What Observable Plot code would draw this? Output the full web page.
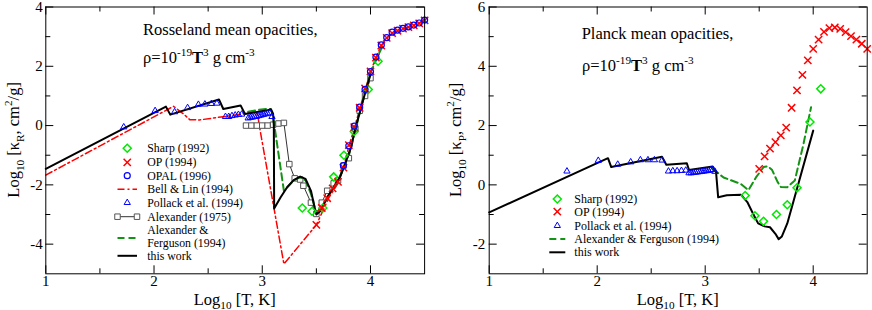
<!DOCTYPE html>
<html><head><meta charset="utf-8">
<script src="https://cdn.jsdelivr.net/npm/d3@7"></script>
<script src="https://cdn.jsdelivr.net/npm/@observablehq/plot@0.6"></script>
<style>
body{margin:0;background:#fff;}
#wrap{display:flex;width:872px;height:310px;}
</style></head><body><div id="wrap"></div>
<script>
// ---------- data: [log10 T, log10 kappa] ----------
const xMajor = [1, 2, 3, 4];
const xMinor = [1.5, 2.5, 3.5];
const rossYMajor = [-4, -2, 0, 2, 4];
const rossYMinor = [-3, -1, 1, 3];
const planckYMajor = [-2, 0, 2, 4, 6];
const planckYMinor = [-1, 1, 3, 5];

// Rosseland panel
const rossThisWork = [[1.0,-1.46],[2.11,0.64],[2.15,0.37],[2.6,0.88],[2.64,0.56],[2.8,0.68],[2.84,0.39],[3.05,0.52],[3.08,0.55],[3.1,0.4],[3.107,0.0],[3.11,-2.8],[3.17,-2.42],[3.23,-2.08],[3.29,-1.84],[3.35,-1.72],[3.4,-1.8],[3.45,-2.2],[3.48,-2.7],[3.5,-3.0],[3.54,-2.87],[3.6,-2.42],[3.66,-2.08],[3.72,-1.72],[3.77,-1.25],[3.82,-0.73],[3.86,-0.1],[3.91,0.55],[3.95,1.1],[4.0,1.72]];
const rossBellLin = [[1.0,-1.67],[2.18,0.65],[2.27,0.4],[2.33,0.2],[2.42,0.19],[2.8,0.38],[2.93,0.5],[2.96,0.35],[2.97,0.05],[3.2,-4.67],[3.5,-3.35],[3.62,-2.4],[3.7,-1.95],[3.75,-1.45],[3.8,-0.7],[3.85,-0.1],[3.9,0.55],[3.95,1.2],[4.0,1.8],[4.05,2.3],[4.1,2.7],[4.15,2.95],[4.2,3.1],[4.3,3.25],[4.4,3.38],[4.5,3.55]];
const rossAlexander75 = [[2.85,0.0],[2.9,0.0],[2.95,0.0],[3.0,0.0],[3.05,0.0],[3.1,0.03],[3.15,0.07],[3.2,0.09],[3.25,-1.3],[3.3,-1.78],[3.35,-1.82],[3.38,-2.03],[3.45,-2.6],[3.5,-2.98],[3.55,-2.6],[3.6,-2.2],[3.66,-1.95],[3.7,-1.85],[3.75,-1.35],[3.8,-1.1],[3.86,-0.1],[3.9,0.5],[3.95,1.0],[4.0,1.6]];
const rossAF = [[2.87,0.47],[2.95,0.52],[3.05,0.57],[3.08,0.55],[3.1,0.3],[3.2,-2.2],[3.29,-1.85],[3.35,-1.75],[3.4,-1.85],[3.45,-2.3],[3.5,-2.95],[3.55,-2.75],[3.63,-2.25],[3.72,-1.72],[3.82,-0.75],[3.91,0.58],[4.0,1.78],[4.1,2.6]];
const rossSharp = [[3.37,-2.78],[3.46,-2.89],[3.56,-2.78],[3.66,-1.73],[3.755,-1.0],[3.85,-0.2],[3.98,1.22],[4.07,2.17]];
const rossOP = [[3.5,-3.35],[3.55,-2.78],[3.6,-2.45],[3.65,-2.12],[3.7,-1.9],[3.75,-1.42],[3.8,-0.66],[3.85,-0.05],[3.9,0.6],[3.95,1.25],[4.0,1.83],[4.05,2.29],[4.1,2.7],[4.15,2.96],[4.2,3.12],[4.25,3.2],[4.3,3.27],[4.35,3.32],[4.4,3.38],[4.45,3.45],[4.5,3.55]];
const rossOPAL = [[3.75,-1.35],[3.8,-0.68],[3.85,-0.02],[3.9,0.62],[3.95,1.22],[4.0,1.82],[4.05,2.31],[4.1,2.72],[4.15,2.97],[4.2,3.15],[4.25,3.22],[4.3,3.28],[4.35,3.33],[4.4,3.39],[4.45,3.46],[4.5,3.56]];
const rossPollack = [[1.72,-0.05],[2.01,0.5],[2.19,0.46],[2.31,0.6],[2.41,0.71],[2.47,0.72],[2.53,0.74],[2.58,0.75],[2.66,0.3],[2.69,0.3],[2.72,0.33],[2.75,0.35],[2.78,0.37],[2.81,0.38],[2.87,0.25],[2.89,0.27],[2.91,0.28],[2.93,0.3],[2.95,0.31],[2.97,0.33],[2.99,0.35],[3.01,0.37],[3.03,0.39],[3.05,0.41],[3.07,0.42],[3.09,0.3]];

// Planck panel
const planckThisWork = [[1.0,-0.93],[2.1,0.9],[2.13,0.6],[2.6,0.95],[2.64,0.68],[2.83,0.73],[2.85,0.5],[3.07,0.62],[3.1,0.45],[3.12,-0.42],[3.2,-0.35],[3.33,-0.33],[3.39,-0.58],[3.44,-0.95],[3.49,-1.3],[3.55,-1.4],[3.6,-1.43],[3.65,-1.65],[3.68,-1.83],[3.71,-1.74],[3.76,-1.3],[4.0,1.83]];
const planckAF = [[3.07,0.55],[3.1,0.45],[3.17,0.25],[3.33,0.03],[3.4,-0.18],[3.47,0.25],[3.54,0.6],[3.58,0.63],[3.62,0.5],[3.67,0.1],[3.7,-0.07],[3.76,-0.08],[3.83,0.15],[3.91,1.38],[3.98,2.62]];
const planckSharp = [[3.37,-0.36],[3.46,-1.04],[3.54,-1.23],[3.66,-1.0],[3.76,-0.67],[3.85,-0.1],[3.97,2.12],[4.07,3.24]];
const planckOP = [[3.5,0.54],[3.55,0.96],[3.6,1.22],[3.65,1.44],[3.7,1.67],[3.75,1.93],[3.8,2.6],[3.85,3.19],[3.9,3.71],[3.95,4.2],[4.0,4.59],[4.05,4.9],[4.1,5.16],[4.15,5.29],[4.2,5.31],[4.25,5.26],[4.3,5.15],[4.35,5.02],[4.4,4.9],[4.45,4.76],[4.5,4.59]];
const planckPollack = [[1.72,0.46],[2.01,0.82],[2.19,0.69],[2.31,0.77],[2.4,0.84],[2.47,0.84],[2.53,0.84],[2.6,0.83],[2.66,0.46],[2.7,0.47],[2.74,0.47],[2.78,0.48],[2.82,0.49],[2.85,0.4],[2.87,0.4],[2.89,0.41],[2.91,0.42],[2.93,0.43],[2.95,0.44],[2.97,0.45],[2.99,0.46],[3.01,0.47],[3.03,0.48],[3.05,0.5],[3.07,0.51],[3.09,0.45]];

// ---------- styles ----------
const FONT = '"Liberation Serif","Times New Roman",serif';
const C = {
  sharp: "#00e800", op: "#ff0000", opal: "#0000ff", bell: "#ff0000",
  pollack: "#0000ff", alex: "#555555", af: "#149414", work: "#000000"
};
const X = d => d[0], Y = d => d[1];
const H = 310, MT = 6.5, MB = 36.7, W = 436;

function makePanel(c) {
  const ih = H - MT - MB, iw = W - c.ml - c.mr;
  const fmt = d => d < 0 ? "-" + (-d) : String(d);
  const marks = [
    Plot.tickX(xMajor, {x: d => d, insetTop: ih - 8, stroke: "black"}),
    Plot.tickX(xMajor, {x: d => d, insetBottom: ih - 8, stroke: "black"}),
    Plot.tickX(xMinor, {x: d => d, insetTop: ih - 5, stroke: "black"}),
    Plot.tickX(xMinor, {x: d => d, insetBottom: ih - 5, stroke: "black"}),
    Plot.tickY(c.yMajor, {y: d => d, insetRight: iw - 8, stroke: "black"}),
    Plot.tickY(c.yMajor, {y: d => d, insetLeft: iw - 8, stroke: "black"}),
    Plot.tickY(c.yMinor, {y: d => d, insetRight: iw - 5, stroke: "black"}),
    Plot.tickY(c.yMinor, {y: d => d, insetLeft: iw - 5, stroke: "black"}),
    Plot.axisX(xMajor, {anchor: "bottom", tickSize: 0, tickPadding: 1.5, label: null, fontSize: 15, tickFormat: fmt}),
    Plot.axisY(c.yMajor, {anchor: "left", tickSize: 0, tickPadding: c.ypad, label: null, fontSize: 15, tickFormat: fmt}),
    ...c.series,
    Plot.frame({stroke: "black", strokeWidth: 1})
  ];
  return Plot.plot({
    width: W, height: H, marginTop: MT, marginBottom: MB, marginLeft: c.ml, marginRight: c.mr,
    x: {domain: [1, 4.5]}, y: {domain: c.yDomain},
    style: {fontFamily: FONT, fontSize: "15px", color: "black", background: "white", overflow: "visible"},
    marks
  });
}

function rich(sel, parts, size) {
  let shift = 0;
  parts.forEach(p => {
    const target = p.sub ? 0.3 * size : p.sup ? -0.42 * size : 0;
    const ts = sel.append("tspan").text(p.t)
      .attr("dy", (target - shift).toFixed(2))
      .attr("font-size", (p.sub || p.sup) ? size * 0.68 : size);
    if (p.bold) ts.attr("font-weight", "bold");
    shift = target;
  });
}

function addText(svg, x, y, parts, size, opts = {}) {
  const t = d3.select(svg).append("text")
    .attr("x", x).attr("y", y)
    .attr("font-family", FONT).attr("fill", "black")
    .attr("text-anchor", opts.anchor || "start")
    .style("white-space", "pre");
  if (opts.rotate) t.attr("transform", `rotate(-90,${x},${y})`);
  rich(t, parts, size);
  return t;
}

function symPath(type, r) { return d3.symbol(type, Math.PI * r * r)(); }

function addLegend(svg, items, lx0, lx1, tx, fs) {
  const g = d3.select(svg).append("g").attr("text-anchor", "start");
  const cx = (lx0 + lx1) / 2;
  items.forEach(it => {
    if (it.line) {
      g.append("line").attr("x1", lx0).attr("x2", lx1).attr("y1", it.y).attr("y2", it.y)
        .attr("stroke", it.line.stroke).attr("stroke-width", it.line.w)
        .attr("stroke-dasharray", it.line.dash || null);
    }
    if (it.sym) {
      const pts = it.sym.ends ? [lx0, lx1] : [cx];
      pts.forEach(px => {
        if (it.sym.circle) {
          g.append("circle").attr("cx", px).attr("cy", it.y).attr("r", it.sym.r)
            .attr("fill", it.sym.fill || "none").attr("stroke", it.sym.stroke).attr("stroke-width", it.sym.w);
        } else {
          g.append("path").attr("d", symPath(it.sym.type, it.sym.r))
            .attr("transform", `translate(${px},${it.y})`)
            .attr("fill", it.sym.fill || "none").attr("stroke", it.sym.stroke).attr("stroke-width", it.sym.w);
        }
      });
    }
    (it.labels || [it.label]).forEach((lab, i) => {
      g.append("text").attr("x", tx).attr("y", (it.ty ? it.ty[i] : it.y) + 4)
        .attr("text-anchor", "start")
        .attr("font-family", FONT).attr("font-size", fs).attr("fill", "black")
        .style("white-space", "pre")
        .text(lab);
    });
  });
}

const symSharp = {type: d3.symbolDiamond2, r: 3.6, stroke: C.sharp, w: 1.5};
const symOP = {type: d3.symbolTimes, r: 3.4, stroke: C.op, w: 1.5};
const symOPAL = {circle: true, r: 3, stroke: C.opal, w: 1.2};
const symPollack = {type: d3.symbolTriangle2, r: 3, stroke: C.pollack, w: 1};
const symAlex = {type: d3.symbolSquare2, r: 3.5, stroke: C.alex, w: 1, fill: "white", ends: true};

// ---------- left panel ----------
const left = makePanel({
  ml: 45.3, mr: 11.9, yDomain: [-5, 4], yMajor: rossYMajor, yMinor: rossYMinor, ypad: 3,
  series: [
    Plot.line(rossBellLin, {x: X, y: Y, stroke: C.bell, strokeWidth: 1.5, strokeDasharray: "7,3,2,3"}),
    Plot.line(rossAlexander75, {x: X, y: Y, stroke: "#333", strokeWidth: 1}),
    Plot.dot(rossAlexander75, {x: X, y: Y, symbol: "square2", r: 3.5, stroke: C.alex, strokeWidth: 1, fill: "white"}),
    Plot.line(rossAF, {x: X, y: Y, stroke: C.af, strokeWidth: 2, strokeDasharray: "7,4"}),
    Plot.line(rossThisWork, {x: X, y: Y, stroke: C.work, strokeWidth: 2}),
    Plot.dot(rossPollack, {x: X, y: Y, symbol: "triangle2", r: 3, stroke: C.pollack, strokeWidth: 1}),
    Plot.dot(rossSharp, {x: X, y: Y, symbol: "diamond2", r: 3.6, stroke: C.sharp, strokeWidth: 1.5}),
    Plot.dot(rossOP, {x: X, y: Y, symbol: "times", r: 3.4, stroke: C.op, strokeWidth: 1.5}),
    Plot.dot(rossOPAL, {x: X, y: Y, r: 3, stroke: C.opal, strokeWidth: 1.2, fill: "none"})
  ]
});

// ---------- right panel ----------
const right = makePanel({
  ml: 52.7, mr: 5.3, yDomain: [-3, 6], yMajor: planckYMajor, yMinor: planckYMinor, ypad: 4,
  series: [
    Plot.line(planckAF, {x: X, y: Y, stroke: C.af, strokeWidth: 2, strokeDasharray: "7,4"}),
    Plot.line(planckThisWork, {x: X, y: Y, stroke: C.work, strokeWidth: 2}),
    Plot.dot(planckPollack, {x: X, y: Y, symbol: "triangle2", r: 3, stroke: C.pollack, strokeWidth: 1}),
    Plot.dot(planckSharp, {x: X, y: Y, symbol: "diamond2", r: 3.6, stroke: C.sharp, strokeWidth: 1.5}),
    Plot.dot(planckOP, {x: X, y: Y, symbol: "times", r: 3.4, stroke: C.op, strokeWidth: 1.5})
  ]
});

// ---------- texts ----------
const rhoLine = [{t: "ρ=10"}, {t: "-19", sup: true}, {t: "T", bold: true}, {t: "3", sup: true}, {t: " g cm"}, {t: "-3", sup: true}];
const xLabel = [{t: "Log"}, {t: "10", sub: true}, {t: " [T, K]"}];

addText(left, 143, 35, [{t: "Rosseland mean opacities,"}], 16.5);
addText(left, 143, 62.5, rhoLine, 16.5);
addText(left, 234.7, 304.5, xLabel, 16.5, {anchor: "middle"});
addText(left, 19, 139.9, [{t: "Log"}, {t: "10", sub: true}, {t: " [κ"}, {t: "R", sub: true}, {t: ", cm"}, {t: "2", sup: true}, {t: "/g]"}], 16.5, {anchor: "middle", rotate: true});

addText(right, 145.7, 39.3, [{t: "Planck mean opacities,"}], 16.5);
addText(right, 146, 71, rhoLine, 16.5);
addText(right, 241.7, 304.5, xLabel, 16.5, {anchor: "middle"});
addText(right, 25, 139.9, [{t: "Log"}, {t: "10", sub: true}, {t: " [κ"}, {t: "P", sub: true}, {t: ", cm"}, {t: "2", sup: true}, {t: "/g]"}], 16.5, {anchor: "middle", rotate: true});

// ---------- legends ----------
addLegend(left, [
  {y: 148.3, sym: symSharp, label: "Sharp (1992)"},
  {y: 162.3, sym: symOP, label: "OP (1994)"},
  {y: 175.7, sym: symOPAL, label: "OPAL (1996)"},
  {y: 189.3, line: {stroke: C.bell, w: 1.5, dash: "7,3,2,3"}, label: "Bell & Lin (1994)"},
  {y: 202.7, sym: symPollack, label: "Pollack et al. (1994)"},
  {y: 216.7, line: {stroke: "#333", w: 1}, sym: symAlex, label: "Alexander (1975)"},
  {y: 238, line: {stroke: C.af, w: 2, dash: "7,4"}, labels: ["Alexander &", "Ferguson (1994)"], ty: [230, 242.5]},
  {y: 255.8, line: {stroke: C.work, w: 2}, label: "this work"}
], 117.5, 137, 147.3, 11.8);

addLegend(right, [
  {y: 199, sym: symSharp, label: "Sharp (1992)"},
  {y: 211.7, sym: symOP, label: "OP (1994)"},
  {y: 225.7, sym: symPollack, label: "Pollack et al. (1994)"},
  {y: 239, line: {stroke: C.af, w: 2, dash: "7,4"}, label: "Alexander & Ferguson (1994)"},
  {y: 252.3, line: {stroke: C.work, w: 2}, label: "this work"}
], 113.3, 129.3, 138.3, 12);

document.getElementById("wrap").append(left, right);
</script></body></html>
